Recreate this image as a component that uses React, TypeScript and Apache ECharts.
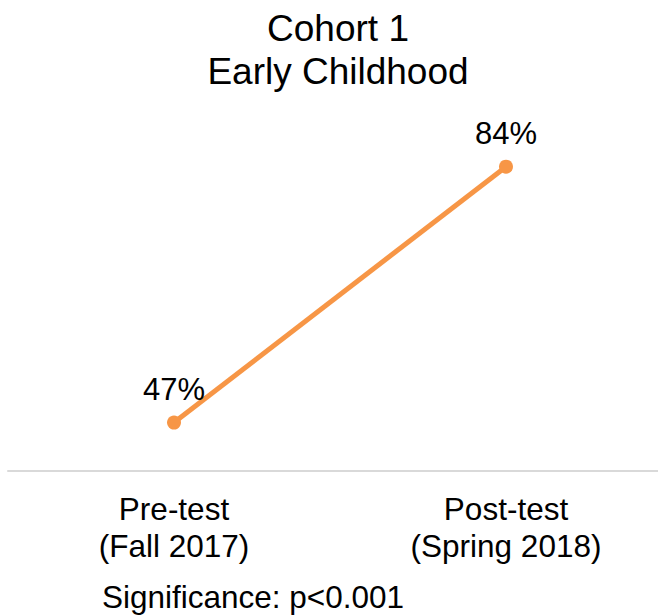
import React, { useEffect, useRef } from "react";
import * as echarts from "echarts";

const titleLines = ["Cohort 1", "Early Childhood"];
const categories = ["Pre-test\n(Fall 2017)", "Post-test\n(Spring 2018)"];
const values = [47, 84];
const significance = "Significance: p<0.001";

const FONT = "'Liberation Sans', Arial, sans-serif";

export default function App() {
  const ref = useRef<HTMLDivElement>(null);
  useEffect(() => {
    if (!ref.current) return;
    const chart = echarts.init(ref.current, undefined, { renderer: "svg" });
    chart.setOption({
      animation: false,
      backgroundColor: "#ffffff",
      textStyle: { fontFamily: FONT },
      grid: { left: 8, width: 664, top: 56, bottom: 616 - 471 },
      xAxis: {
        type: "category",
        data: categories,
        boundaryGap: true,
        axisLine: { show: true, lineStyle: { color: "#d9d9d9", width: 2 } },
        axisTick: { show: false },
        splitLine: { show: false },
        axisLabel: {
          color: "#000",
          fontSize: 31.5,
          lineHeight: 37,
          fontFamily: FONT,
          margin: 19,
          interval: 0,
        },
      },
      yAxis: {
        type: "value",
        min: 40,
        max: 100,
        show: false,
        splitLine: { show: false },
      },
      graphic: [
        {
          type: "text",
          x: 338,
          y: 7,
          style: {
            text: titleLines.join("\n"),
            fontSize: 37,
            lineHeight: 43,
            fontFamily: FONT,
            fill: "#000",
            align: "center",
            verticalAlign: "top",
          },
        },
        {
          type: "text",
          x: 102,
          y: 581,
          style: {
            text: significance,
            fontSize: 31.5,
            fontFamily: FONT,
            fill: "#000",
            align: "left",
            verticalAlign: "top",
          },
        },
      ],
      series: [
        {
          type: "line",
          data: values,
          symbol: "circle",
          symbolSize: 14,
          lineStyle: { color: "#F79646", width: 5 },
          itemStyle: { color: "#F79646" },
          label: {
            show: true,
            position: "top",
            distance: 11,
            formatter: (p: any) => p.value + "%",
            fontSize: 31,
            color: "#000",
            fontFamily: FONT,
          },
        },
      ],
    });
    return () => chart.dispose();
  }, []);
  return (
    <div style={{ position: "fixed", left: 0, top: 0, width: 658, height: 616, overflow: "hidden", background: "#fff" }}>
      <div ref={ref} style={{ width: 680, height: 616 }} />
    </div>
  );
}
